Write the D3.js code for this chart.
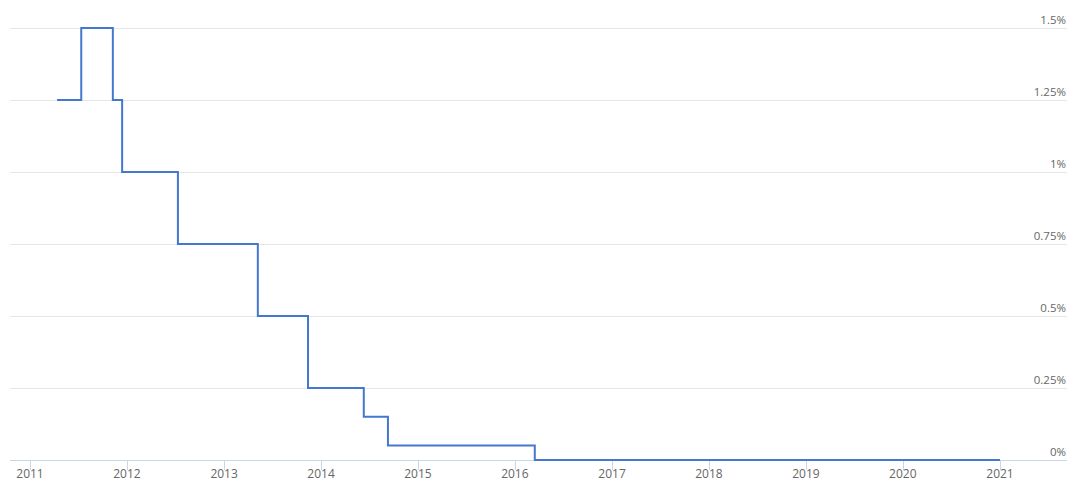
<!DOCTYPE html>
<html>
<head>
<meta charset="utf-8">
<script src="https://cdn.jsdelivr.net/npm/d3@7"></script>
<style>
  body { margin: 0; background: #fff; }
  text { font-family: "Open Sans", sans-serif; }
</style>
</head>
<body>
<div id="chart"></div>
<script>
// step dates and rate (%) after each change
const dates = ["2011-04-13", "2011-07-13", "2011-11-09", "2011-12-14", "2012-07-11",
  "2013-05-08", "2013-11-13", "2014-06-11", "2014-09-10", "2016-03-16", "2021-01-01"];
const rates = [1.25, 1.5, 1.25, 1.0, 0.75, 0.5, 0.25, 0.15, 0.05, 0, 0];
const yTicks = [0, 0.25, 0.5, 0.75, 1, 1.25, 1.5];
const yLabels = ["0%", "0.25%", "0.5%", "0.75%", "1%", "1.25%", "1.5%"];
const xYears = [2011, 2012, 2013, 2014, 2015, 2016, 2017, 2018, 2019, 2020, 2021];

const width = 1069;
const height = 481;
const left = 10, right = 1067;

const parse = d3.timeParse("%Y-%m-%d");
const points = dates.map((d, i) => ({ date: parse(d), value: rates[i] }));

const svg = d3.select("#chart").append("svg")
  .attr("width", width)
  .attr("height", height);

const x = d3.scaleTime()
  .domain([new Date(2011, 0, 1), new Date(2021, 0, 1)])
  .range([30, 1000]);

const y = d3.scaleLinear()
  .domain([0, 1.5])
  .range([460, 28]);

// gridlines + labels on the right
svg.append("g").selectAll("line")
  .data(yTicks.filter(t => t > 0))
  .join("line")
  .attr("x1", left)
  .attr("x2", right)
  .attr("y1", d => y(d) + 0.5)
  .attr("y2", d => y(d) + 0.5)
  .attr("stroke", "#e6e6e6")
  .attr("stroke-width", 1);

svg.append("g").selectAll("text")
  .data(yTicks)
  .join("text")
  .attr("x", 1066)
  .attr("y", d => y(d) - 4)
  .attr("text-anchor", "end")
  .attr("font-size", 11.5)
  .attr("fill", "#666")
  .text((d, i) => yLabels[i]);

// x axis
const xAxis = svg.append("g");
xAxis.append("line")
  .attr("x1", left)
  .attr("x2", right)
  .attr("y1", 460.5)
  .attr("y2", 460.5)
  .attr("stroke", "#ccd6eb");

xAxis.selectAll("line.tick")
  .data(xYears)
  .join("line")
  .attr("class", "tick")
  .attr("x1", d => Math.round(x(new Date(d, 0, 1))) + 0.5)
  .attr("x2", d => Math.round(x(new Date(d, 0, 1))) + 0.5)
  .attr("y1", 460)
  .attr("y2", 470)
  .attr("stroke", "#ccd6eb");

xAxis.selectAll("text")
  .data(xYears)
  .join("text")
  .attr("x", d => x(new Date(d, 0, 1)))
  .attr("y", 478)
  .attr("text-anchor", "middle")
  .attr("font-size", 12)
  .attr("fill", "#666")
  .text(d => d);

// step line
const line = d3.line()
  .x(d => x(d.date))
  .y(d => y(d.value))
  .curve(d3.curveStepAfter);

svg.append("path")
  .datum(points)
  .attr("d", line)
  .attr("fill", "none")
  .attr("stroke", "#4477d0")
  .attr("stroke-width", 2);
</script>
</body>
</html>
